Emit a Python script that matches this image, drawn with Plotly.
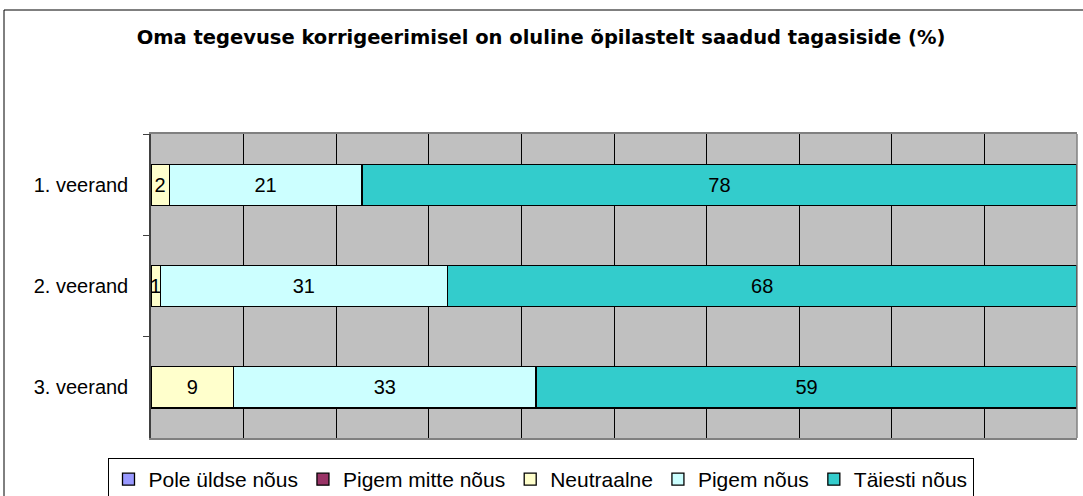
import plotly.graph_objects as go

categories = ["1. veerand", "2. veerand", "3. veerand"]
series_names = ["Pole üldse nõus", "Pigem mitte nõus", "Neutraalne", "Pigem nõus", "Täiesti nõus"]
pole_uldse = [0, 0, 0]
pigem_mitte = [0, 0, 0]
neutraalne = [2, 1, 9]
pigem_nous = [21, 31, 33]
taiesti = [78, 68, 59]
colors = ["#9999FF", "#993366", "#FFFFCC", "#CCFFFF", "#33CCCC"]
title = "Oma tegevuse korrigeerimisel on oluline õpilastelt saadud tagasiside (%)"

W, H = 1083, 496
L, R, T, B = 151, 6, 134, 58
pw, ph = W - L - R, H - T - B

fig = go.Figure()
for name, vals, col in zip(series_names, [pole_uldse, pigem_mitte, neutraalne, pigem_nous, taiesti], colors):
    fig.add_trace(go.Bar(
        y=categories, x=vals, name=name, orientation="h",
        marker=dict(color=col, line=dict(color="black", width=1.3)),
        text=[str(v) if v else "" for v in vals],
        texttemplate="%{text}", textposition="inside", insidetextanchor="middle",
        textangle=0, textfont=dict(size=20, color="black"),
        constraintext="none",
    ))

def px_x(px):
    return (px - L) / pw

def px_y(py):
    return (H - B - py) / ph

fig.update_layout(
    width=W, height=H, barmode="stack", barnorm="percent", bargap=0.595,
    margin=dict(l=L, r=R, t=T, b=B, pad=0, autoexpand=False),
    paper_bgcolor="white", plot_bgcolor="#C0C0C0",
    font=dict(family="Liberation Sans, Arial", size=20, color="black"),
    uniformtext=dict(minsize=20, mode="show"),
    title=dict(text="<b>" + title + "</b>", x=541 / W, xref="container", xanchor="center",
               y=1 - 37 / H, yref="container", yanchor="middle",
               font=dict(size=19.5, family="DejaVu Sans", color="black")),
    xaxis=dict(range=[0, 100], dtick=10, showgrid=True, gridcolor="black", gridwidth=1,
               showticklabels=False, zeroline=False, showline=True, linecolor="#808080",
               linewidth=1.5, mirror=True, ticks=""),
    yaxis=dict(autorange="reversed", showline=True, linecolor="#404040", linewidth=1.5,
               ticks="outside", ticklen=6, tickcolor="#404040", tickson="boundaries",
               ticklabelstandoff=17, showgrid=False, zeroline=False,
               tickfont=dict(size=20)),
    legend=dict(orientation="h", x=px_x(540.5), xanchor="center", y=px_y(458), yanchor="top",
                bordercolor="black", borderwidth=1, bgcolor="white",
                font=dict(size=21), traceorder="normal", itemwidth=30,
                tracegroupgap=0),
    showlegend=True,
)

# right border of plot area (gray)
fig.add_shape(type="line", xref="paper", yref="paper", x0=1, x1=1, y0=0, y1=1,
              line=dict(color="#808080", width=1.5))
# outer chart border
fig.add_shape(type="rect", xref="paper", yref="paper",
              x0=px_x(4), x1=px_x(1090), y0=px_y(500), y1=px_y(10),
              line=dict(color="black", width=1), fillcolor="rgba(0,0,0,0)", layer="below")

fig.write_html("out.html", config={"displayModeBar": False},
               post_script="document.body.style.margin='0px';")
